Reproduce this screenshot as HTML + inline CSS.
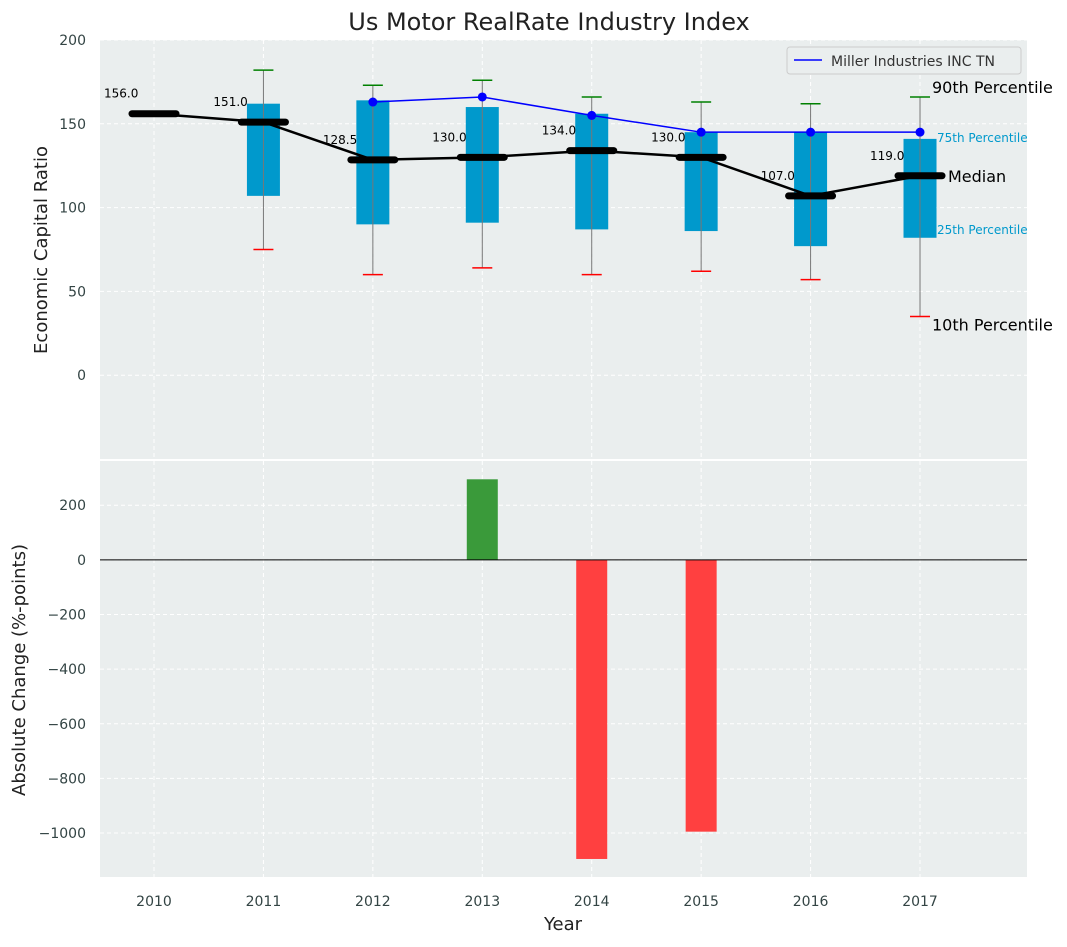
<!DOCTYPE html>
<html><head><meta charset="utf-8"><style>
body{margin:0;background:#fff;font-family:"Liberation Sans","DejaVu Sans",sans-serif}
svg text{font-family:"DejaVu Sans","Liberation Sans",sans-serif}
</style></head><body>
<svg id="c" width="1067" height="942"></svg>
<script>
const years=[2010,2011,2012,2013,2014,2015,2016,2017];
const medians=[156,151,128.5,130,134,130,107,119];
const q1=[null,107,90,91,87,86,77,82];
const q3=[null,162,164,160,156,145,145,141];
const p10=[null,75,60,64,60,62,57,35];
const p90=[null,182,173,176,166,163,162,166];
const companyYears=[2012,2013,2014,2015,2016,2017];
const companyVals=[163,166,155,145,145,145];
const changeYears=[2013,2014,2015];
const changeVals=[295,-1095,-995];
const topTicks=[0,50,100,150,200];
const botTicks=[-1000,-800,-600,-400,-200,0,200];

const NS="http://www.w3.org/2000/svg";
const svg=document.getElementById('c');
function el(t,a,p){const e=document.createElementNS(NS,t);for(const k in a)e.setAttribute(k,a[k]);(p||svg).appendChild(e);return e;}
function tx(x,y,s,a){const e=el('text',Object.assign({x:x,y:y},a));e.textContent=s;return e;}
const L=100,R=1027;
const X=v=>154+(v-2010)*109.43;
const T0=40,T1=459,Y=v=>T1-(v+50)/250*(T1-T0);
const B0=461,B1=877,BY=v=>B1-(v+1161)/(362+1161)*(B1-B0);

const bg1=el('rect',{x:L,y:T0,width:R-L,height:T1-T0,fill:'#eaeeee'});

const bg2=el('rect',{x:L,y:B0,width:R-L,height:B1-B0,fill:'#eaeeee'});


years.forEach(y=>{
 el('line',{x1:X(y),x2:X(y),y1:T0,y2:T1,stroke:'#fff','stroke-dasharray':'4,3'});
 el('line',{x1:X(y),x2:X(y),y1:B0,y2:B1,stroke:'#fff','stroke-dasharray':'4,3'});
 const t=tx(X(y),906,String(y),{'text-anchor':'middle','font-size':14,fill:'#344'});
 
});
topTicks.forEach(v=>{
 el('line',{x1:L,x2:R,y1:Y(v),y2:Y(v),stroke:'#fff','stroke-dasharray':'4,3'});
 const t=tx(86,Y(v)+5,String(v),{'text-anchor':'end','font-size':14,fill:'#344'});
 
});
botTicks.forEach(v=>{
 el('line',{x1:L,x2:R,y1:BY(v),y2:BY(v),stroke:'#fff','stroke-dasharray':'4,3'});
 const t=tx(86,BY(v)+5,v<0?'\u2212'+(-v):String(v),{'text-anchor':'end','font-size':14,fill:'#344'});
 
});

const bw=33;
years.forEach((y,i)=>{
 if(q1[i]==null)return;
 const x=X(y);
 const b=el('rect',{x:x-bw/2,y:Y(q3[i]),width:bw,height:Y(q1[i])-Y(q3[i]),fill:'#0099cc'});
 
 el('line',{x1:x,x2:x,y1:Y(p90[i]),y2:Y(p10[i]),stroke:'#777','stroke-width':1});
 el('line',{x1:x-10,x2:x+10,y1:Y(p90[i]),y2:Y(p90[i]),stroke:'green','stroke-width':1.5});
 el('line',{x1:x-10,x2:x+10,y1:Y(p10[i]),y2:Y(p10[i]),stroke:'red','stroke-width':1.5});
});
const ml=el('polyline',{points:years.map((y,i)=>X(y)+','+Y(medians[i])).join(' '),fill:'none',stroke:'#000','stroke-width':2.5});

years.forEach((y,i)=>{
 const m=el('line',{x1:X(y)-22,x2:X(y)+22,y1:Y(medians[i]),y2:Y(medians[i]),stroke:'#000','stroke-width':7,'stroke-linecap':'round'});
 
 const t=tx(X(y)-50,Y(medians[i])-16,medians[i].toFixed(1),{'font-size':12,fill:'#000'});
 
});
const cl=el('polyline',{points:companyYears.map((y,i)=>X(y)+','+Y(companyVals[i])).join(' '),fill:'none',stroke:'blue','stroke-width':1.5});

companyYears.forEach((y,i)=>{
 const c=el('circle',{cx:X(y),cy:Y(companyVals[i]),r:4.5,fill:'blue'});
 
});
const last=years.length-1,xl=X(years[last]);
[[p90[last],'90th Percentile',16,'#000',xl+12,-4],[q3[last],'75th Percentile',12,'#0099cc',xl+17,3],[medians[last],'Median',16,'#000',xl+28,6],[q1[last],'25th Percentile',12,'#0099cc',xl+17,-4],[p10[last],'10th Percentile',16,'#000',xl+12,14]].forEach(a=>{
 const t=tx(a[4],Y(a[0])+a[5],a[1],{'font-size':a[2],fill:a[3]});
 
});
const lg=el('g',{});
el('rect',{x:787,y:47,width:234,height:27,rx:3,fill:'#eaeeee',stroke:'#ccc'},lg);
el('line',{x1:794,x2:822,y1:60,y2:60,stroke:'blue','stroke-width':1.5},lg);
tx(831,66,'Miller Industries INC TN',{'font-size':14,fill:'#333'},lg);

const bbw=31;
changeYears.forEach((y,i)=>{
 const v=changeVals[i];
 const r=el('rect',{x:X(y)-bbw/2,y:Math.min(BY(v),BY(0)),width:bbw,height:Math.abs(BY(v)-BY(0)),fill:v>=0?'#3a9a3a':'#ff4040'});
 
});
el('line',{x1:L,x2:R,y1:BY(0),y2:BY(0),stroke:'#000','stroke-width':1});

let t=tx(549,30,'Us Motor RealRate Industry Index',{'text-anchor':'middle','font-size':24,fill:'#222'});

t=tx(563,930,'Year',{'text-anchor':'middle','font-size':18,fill:'#222'});

t=tx(0,0,'Economic Capital Ratio',{'text-anchor':'middle','font-size':18,fill:'#222',transform:'translate(47,250) rotate(-90)'});

t=tx(0,0,'Absolute Change (%-points)',{'text-anchor':'middle','font-size':18,fill:'#222',transform:'translate(25,670) rotate(-90)'});

</script>
</body></html>
